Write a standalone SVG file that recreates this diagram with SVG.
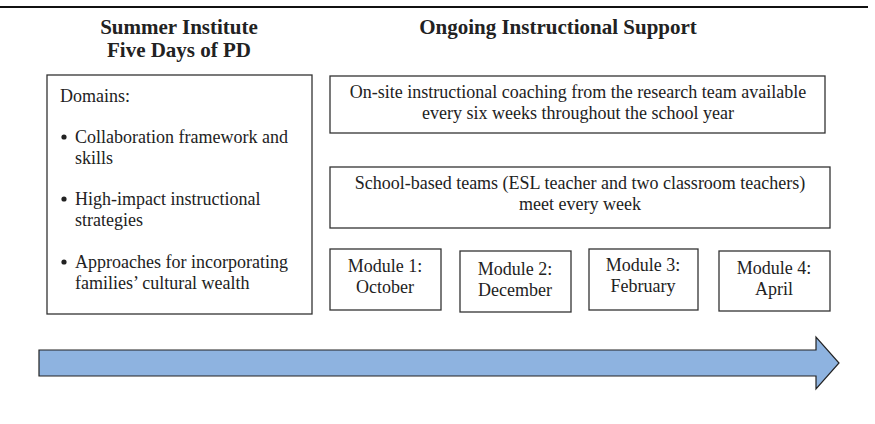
<svg xmlns="http://www.w3.org/2000/svg" width="875" height="424" viewBox="0 0 875 424">
<style>
.box{fill:#fff;stroke:#333;stroke-width:1.3}
.t{font-family:"Liberation Serif","Times New Roman",serif;font-size:18px;fill:#222}
.c{text-anchor:middle}
.h{font-family:"Liberation Serif","Times New Roman",serif;font-size:21px;font-weight:bold;fill:#222;text-anchor:middle}
.b{fill:#222}
</style>
<rect width="875" height="424" fill="#fff"/>
<line x1="0" y1="7" x2="868" y2="7" stroke="#111" stroke-width="2"/>
<g id="heading-left">
<text class="h" x="179" y="34">Summer Institute</text>
<text class="h" x="179" y="57">Five Days of PD</text>
</g>
<g id="heading-right">
<text class="h" x="558" y="34">Ongoing Instructional Support</text>
</g>
<g id="domains">
<rect class="box" x="47" y="75" width="265" height="239"/>
<text class="t" x="60" y="102">Domains:</text>
<circle class="b" cx="64" cy="137" r="2.6"/>
<text class="t" x="75" y="143">Collaboration framework and</text>
<text class="t" x="75" y="164">skills</text>
<circle class="b" cx="64" cy="199" r="2.6"/>
<text class="t" x="75" y="205">High-impact instructional</text>
<text class="t" x="75" y="226">strategies</text>
<circle class="b" cx="64" cy="262" r="2.6"/>
<text class="t" x="75" y="268">Approaches for incorporating</text>
<text class="t" x="75" y="289">families’ cultural wealth</text>
</g>
<g id="coaching">
<rect class="box" x="330" y="76" width="495" height="57"/>
<text class="t c" x="578" y="98">On-site instructional coaching from the research team available</text>
<text class="t c" x="578" y="119">every six weeks throughout the school year</text>
</g>
<g id="teams">
<rect class="box" x="330" y="167" width="500" height="61"/>
<text class="t c" x="580" y="189">School-based teams (ESL teacher and two classroom teachers)</text>
<text class="t c" x="580" y="210">meet every week</text>
</g>
<g id="module1">
<rect class="box" x="330" y="249" width="111" height="61"/>
<text class="t c" x="385" y="272">Module 1:</text>
<text class="t c" x="385" y="293">October</text>
</g>
<g id="module2">
<rect class="box" x="460" y="251" width="111" height="61"/>
<text class="t c" x="515" y="275">Module 2:</text>
<text class="t c" x="515" y="296">December</text>
</g>
<g id="module3">
<rect class="box" x="589" y="249" width="109" height="61"/>
<text class="t c" x="643" y="271">Module 3:</text>
<text class="t c" x="643" y="292">February</text>
</g>
<g id="module4">
<rect class="box" x="719" y="251" width="111" height="60"/>
<text class="t c" x="774" y="274">Module 4:</text>
<text class="t c" x="774" y="295">April</text>
</g>
<g id="connectors">
<path d="M39,350 H816 V337 L839,363 L816,389 V376 H39 Z" fill="#8EB3E0" stroke="#222" stroke-width="1.2"/>
</g>
</svg>
